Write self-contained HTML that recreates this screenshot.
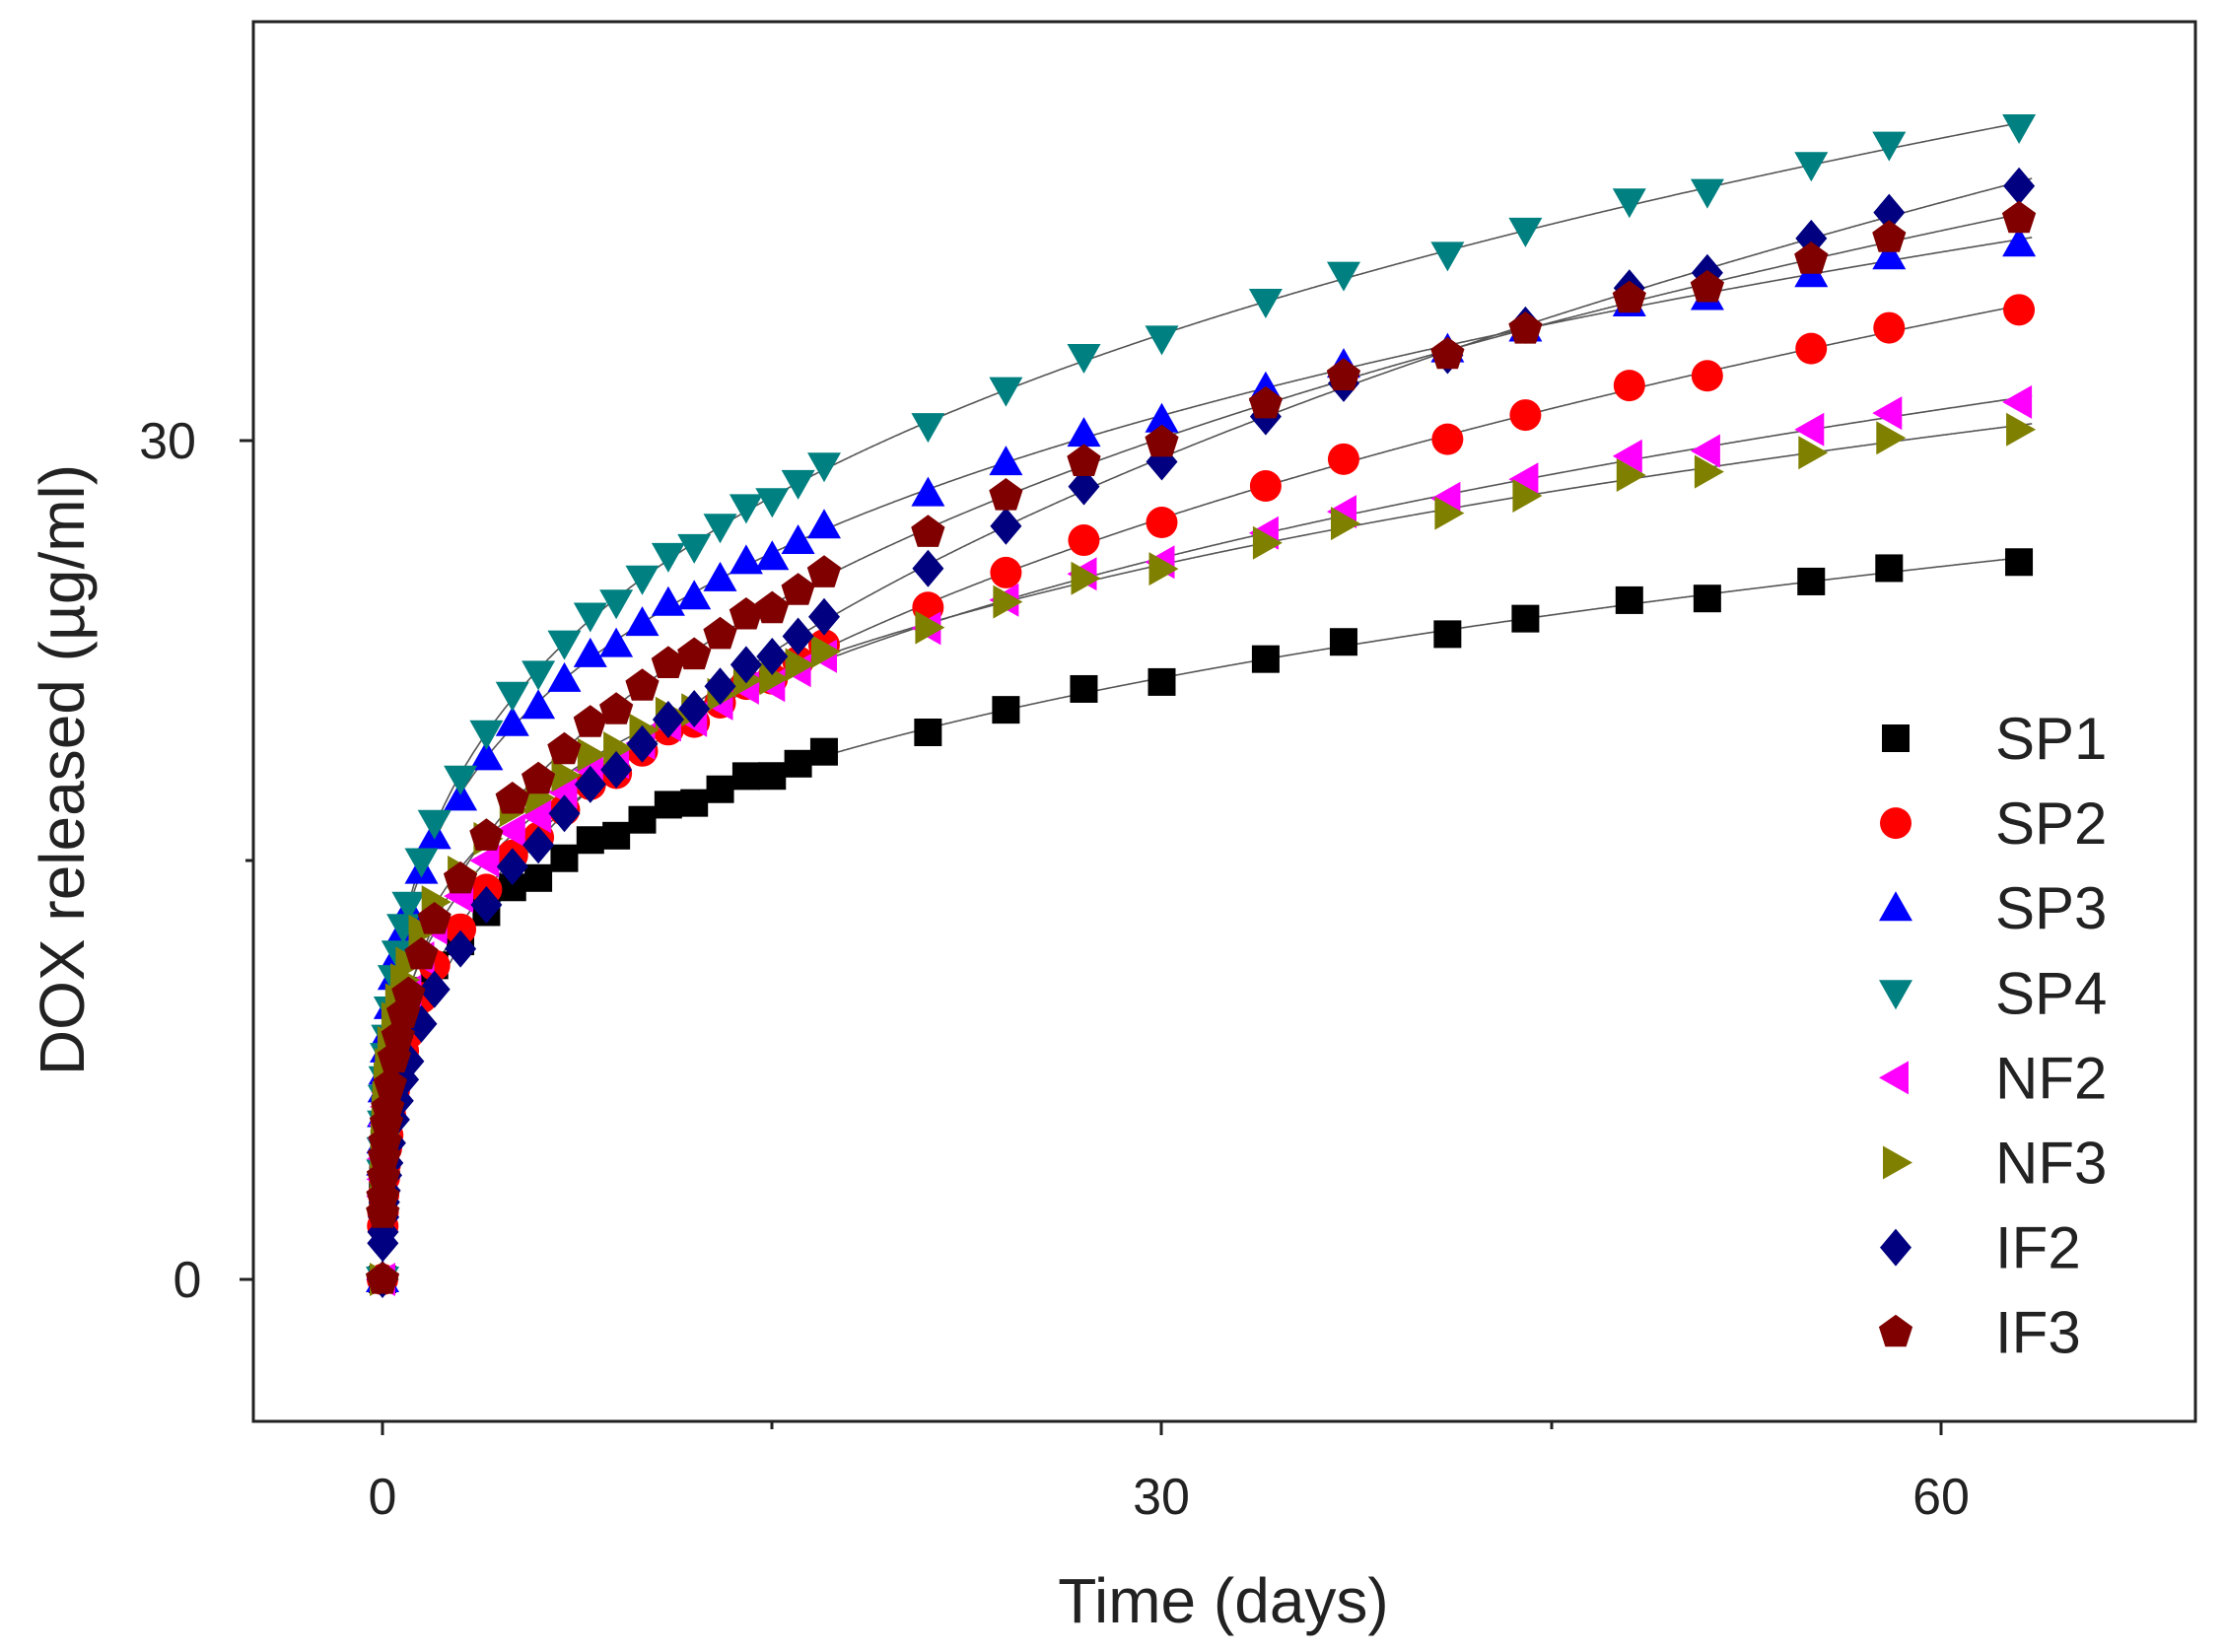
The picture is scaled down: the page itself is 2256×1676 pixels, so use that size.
<!DOCTYPE html>
<html><head><meta charset="utf-8"><style>
html,body{margin:0;padding:0;background:#fff}
svg{display:block}
text{font-family:"Liberation Sans",Arial,sans-serif;fill:#222}
</style></head><body>
<svg id="s" width="2256" height="1676" viewBox="0 0 2256 1676" xmlns="http://www.w3.org/2000/svg">
<rect x="257" y="22" width="1970" height="1420" fill="none" stroke="#222" stroke-width="3"/>
<g stroke="#222" stroke-width="3">
<line x1="388" y1="1442" x2="388" y2="1456"/><line x1="1178" y1="1442" x2="1178" y2="1456"/><line x1="1969" y1="1442" x2="1969" y2="1456"/>
<line x1="783" y1="1442" x2="783" y2="1450"/><line x1="1574" y1="1442" x2="1574" y2="1450"/>
<line x1="257" y1="1298" x2="243" y2="1298"/><line x1="257" y1="447" x2="243" y2="447"/>
<line x1="257" y1="873" x2="249" y2="873"/>
</g>
<g font-size="52" text-anchor="middle">
<text x="388" y="1536">0</text><text x="1178" y="1536">30</text><text x="1969" y="1536">60</text>
<text x="190" y="1316">0</text><text x="170" y="465">30</text>
</g>
<text x="1241" y="1646" font-size="64" text-anchor="middle">Time (days)</text>
<text transform="translate(85,781) rotate(-90)" font-size="64" text-anchor="middle">DOX released (µg/ml)</text>
<g id="curves" fill="none" stroke="#555" stroke-width="1.6"></g>
<g id="pts"></g>
<g id="leg" font-size="60"></g>
</svg>
<script>
const X=t=>388+t*26.35, Y=v=>1298-v*28.37;
const S=[
["SP1","#000","sq",9.35,0.245],
["SP2","#ff0000","ci",8.8,0.332],
["SP3","#0000ff","tu",13.2,0.25],
["SP4","#008080","td",13.4,0.272],
["NF2","#ff00ff","tl",10.3,0.27],
["NF3","#808000","tr",11.3,0.24],
["IF2","#000080","di",7.8,0.39],
["IF3","#800000","pe",10.2,0.318]];
const ts=[0,0.01,0.02,0.04,0.07,0.1,0.15,0.2,0.3,0.45,0.6,0.8,1,1.5,2,3,4,5,6,7,8,9,10,11,12,13,14,15,16,17,21,24,27,30,34,37,41,44,48,51,55,58,63];
function mk(type,x,y,c){let p;
switch(type){
case"sq":return`<rect x="${x-14}" y="${y-14}" width="28" height="28" fill="${c}"/>`;
case"ci":return`<circle cx="${x}" cy="${y}" r="16" fill="${c}"/>`;
case"tu":p=[[x,y-17],[x+17,y+13],[x-17,y+13]];break;
case"td":p=[[x,y+17],[x+17,y-13],[x-17,y-13]];break;
case"tl":p=[[x-17,y],[x+13,y-17],[x+13,y+17]];break;
case"tr":p=[[x+17,y],[x-13,y-17],[x-13,y+17]];break;
case"di":p=[[x,y-19],[x+16,y],[x,y+19],[x-16,y]];break;
case"pe":p=[];for(let i=0;i<5;i++){const a=-Math.PI/2+i*2*Math.PI/5;p.push([x+18*Math.cos(a),y+18*Math.sin(a)]);}break;}
return`<polygon points="${p.map(q=>q.map(v=>v.toFixed(1)).join(",")).join(" ")}" fill="${c}"/>`;}
let cv="",pt="",lg="";
S.forEach(([n,c,ty,a,b],i)=>{
 let d="";for(let t=0;t<=63.5;t+=0.05){d+=(t?"L":"M")+X(t).toFixed(1)+","+Y(a*Math.pow(t,b)).toFixed(1);}
 cv+=`<path d="${d}"/>`;
 ts.forEach((t,k)=>{const w=(k%3-1)*0.15;pt+=mk(ty,X(t),Y(a*Math.pow(t,b)+(t>1?w:0)),c);});
 const ly=749+i*86.1;lg+=mk(ty,1923,ly,c)+`<text x="2024" y="${ly+21}">${n}</text>`;
});
document.getElementById("curves").innerHTML=cv;
document.getElementById("pts").innerHTML=pt;
document.getElementById("leg").innerHTML=lg;
</script>
</body></html>
